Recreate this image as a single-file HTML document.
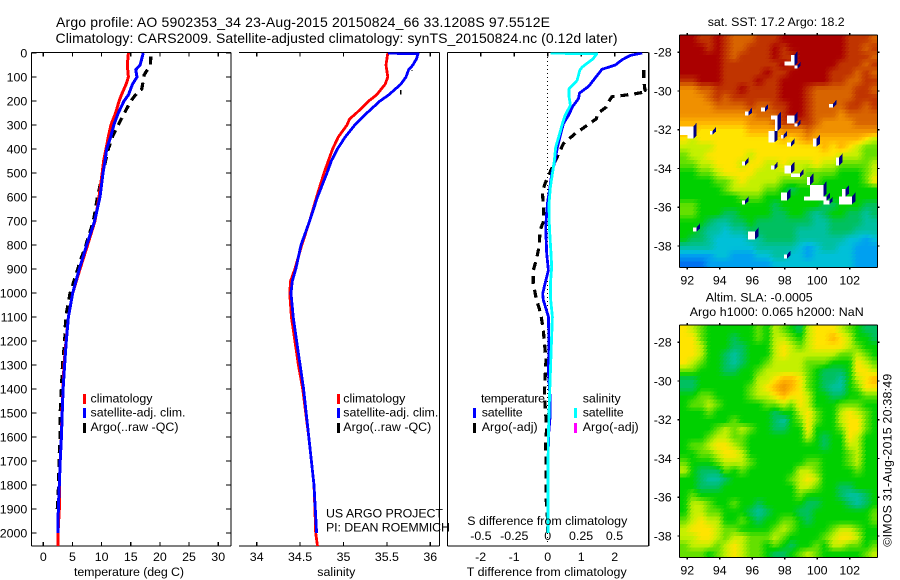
<!DOCTYPE html>
<html lang="en">
<head>
<meta charset="utf-8">
<title>Argo profile</title>
<style>
html,body{margin:0;padding:0;background:#fff;}
svg{display:block;}
text{font-family:"Liberation Sans",sans-serif;font-size:12.4px;fill:#000;}
.t14{font-size:14px;}
</style>
</head>
<body>
<svg id="chart" xmlns="http://www.w3.org/2000/svg" width="900" height="580" viewBox="0 0 900 580">
<rect x="0" y="0" width="900" height="580" fill="#fff"/>
<defs>
<clipPath id="clipT"><rect x="31.5" y="52.5" width="199.5" height="493.5"/></clipPath>
<clipPath id="clipS"><rect x="239" y="52.5" width="200.5" height="493.5"/></clipPath>
<clipPath id="clipD"><rect x="447.5" y="52.5" width="201" height="493.5"/></clipPath>
<clipPath id="clipM1"><rect x="679.5" y="35.5" width="198" height="232"/></clipPath>
<clipPath id="clipM2"><rect x="679.5" y="325.5" width="198" height="232"/></clipPath>
</defs>
<g id="mapSst" clip-path="url(#clipM1)"></g>
<g id="mapSla" clip-path="url(#clipM2)"></g>
<g id="axes"></g>
<g id="lines"></g>

<text class="t14" x="56" y="27" textLength="494">Argo profile: AO 5902353_34 23-Aug-2015 20150824_66 33.1208S 97.5512E</text>
<text class="t14" x="55.5" y="43" textLength="562">Climatology: CARS2009. Satellite-adjusted climatology: synTS_20150824.nc (0.12d later)</text>

<text x="74" y="576" textLength="110">temperature (deg C)</text>
<text x="317.3" y="576" textLength="38">salinity</text>
<text x="466.7" y="576" textLength="160">T difference from climatology</text>
<text x="467.3" y="525" textLength="160">S difference from climatology</text>

<rect x="83" y="394" width="3" height="10" fill="#f00"/>
<text x="90.5" y="402.7" textLength="62">climatology</text>
<rect x="83" y="408" width="3" height="10" fill="#00f"/>
<text x="90.5" y="416.7" textLength="95">satellite-adj. clim.</text>
<rect x="83" y="423" width="3" height="10" fill="#000"/>
<text x="90.5" y="431" textLength="88">Argo(..raw -QC)</text>

<rect x="337" y="394" width="3" height="10" fill="#f00"/>
<text x="343.3" y="402.7" textLength="62">climatology</text>
<rect x="337" y="408" width="3" height="10" fill="#00f"/>
<text x="343.3" y="416.7" textLength="95">satellite-adj. clim.</text>
<rect x="337" y="423" width="3" height="10" fill="#000"/>
<text x="343.3" y="431" textLength="88">Argo(..raw -QC)</text>

<text x="326" y="517.3" textLength="117">US ARGO PROJECT</text>
<text x="326" y="531.5" textLength="124">PI: DEAN ROEMMICH</text>

<text x="481" y="402.7" textLength="64">temperature</text>
<rect x="473" y="408" width="3" height="10" fill="#00f"/>
<text x="481.7" y="416.7" textLength="41">satellite</text>
<rect x="473" y="423" width="3" height="10" fill="#000"/>
<text x="481.7" y="431" textLength="56">Argo(-adj)</text>
<text x="582.7" y="402.7" textLength="38">salinity</text>
<rect x="574" y="408" width="3" height="10" fill="#0ff"/>
<text x="582.7" y="416.7" textLength="41">satellite</text>
<rect x="574" y="423" width="3" height="10" fill="#f0f"/>
<text x="582.7" y="431" textLength="56">Argo(-adj)</text>

<text x="707.7" y="26" textLength="137">sat. SST: 17.2 Argo: 18.2</text>
<text x="705.7" y="301.7" textLength="107">Altim. SLA: -0.0005</text>
<text x="689.7" y="316" textLength="174">Argo h1000: 0.065 h2000: NaN</text>
<text transform="translate(891.7,546.7) rotate(-90)" x="0" y="0" textLength="173">©IMOS 31-Aug-2015 20:38:49</text>
</svg>

<script>
// ---- temperature profile (depth in m, temperature in deg C)
const tClimDepth = [0,50,100,130,175,200,250,300,350,400,450,500,600,700,800,900,1000,1100,1200,1300,1400,1500,1600,1700,1800,1900,2000,2054];
const tClimValue = [14.6,14.4,14.6,14.2,13.4,13.0,12.4,11.6,11.15,10.75,10.35,10.1,9.55,8.87,7.6,6.3,5.04,4.3,3.9,3.55,3.38,3.2,3.1,2.9,2.75,2.75,2.52,2.52];
const tSatDepth = [0,50,70,100,130,175,200,250,300,350,400,450,500,600,700,800,900,1000,1100,1200,1300,1400,1500,1600,1700,1800,1900,2000];
const tSatValue = [17.15,16.6,15.85,16.07,15.3,14.6,13.84,12.87,12.1,11.56,10.87,10.58,10.24,9.73,8.8,7.44,6.18,5.04,4.3,3.95,3.65,3.4,3.25,3.1,2.9,2.75,2.58,2.52];
const tArgoDepth = [15,50,90,150,160,200,260,340,400,500,600,700,800,870,950,1000,1100,1200,1300,1400,1500,1600,1700,1800,1900];
const tArgoValue = [18.42,18.4,17.33,16.9,16.3,15,13.7,12,11.15,10.2,9.3,8.6,7.3,6.3,5.27,4.6,3.84,3.67,3.3,3.1,2.9,2.87,2.7,2.63,2.4];
// ---- salinity profile
const sClimDepth = [0,50,100,130,175,200,250,275,300,350,400,450,500,600,700,800,900,950,1000,1100,1200,1300,1400,1500,1600,1700,1800,1900,2000,2054];
const sClimValue = [35.51,35.49,35.51,35.48,35.38,35.29,35.15,35.07,35.04,34.94,34.875,34.825,34.775,34.69,34.61,34.52,34.44,34.39,34.38,34.40,34.44,34.48,34.53,34.565,34.6,34.63,34.66,34.67,34.68,34.70];
const sSatDepth = [1,3,25,50,70,100,130,175,200,250,300,350,400,450,500,600,700,800,900,950,1000,1100,1200,1300,1400,1500,1600,1700,1800,1900,2000];
const sSatValue = [35.51,35.86,35.84,35.80,35.75,35.72,35.66,35.52,35.42,35.27,35.13,35.02,34.93,34.86,34.81,34.70,34.61,34.51,34.45,34.41,34.395,34.42,34.46,34.5,34.54,34.57,34.6,34.63,34.66,34.675,34.69];
const sArgoDepth = [70,76,120,155,172];
const sArgoValue = [35.79,35.79,null,35.66,35.66];
// ---- differences from climatology
const dTSatDepth = [0,10,28,50,68,107,139,167,190,222,260,294,336,392,447,503,558,628,725,836,906,961,1003,1029,1071,1099,1210,1328,1430,1520,1600,2000];
const dTSatValue = [2.82,2.47,2.22,2.02,1.62,1.4,1.22,0.95,0.92,0.75,0.62,0.47,0.39,0.29,0.22,0.12,0.07,-0.01,-0.06,-0.03,0.02,-0.08,-0.15,-0.13,-0.04,0.02,0.04,0.02,0.07,0.07,0.02,0.01];
const dSSatDepth = [1,3,24,58,72,114,149,183,218,260,294,336,392,447,503,558,628,725,836,892,961,1017,1099,1210,1328,1446,1585,1724,1863,2000];
const dSSatValue = [0.02,0.3675,0.34,0.26,0.24,0.22,0.16,0.16,0.17,0.13,0.11,0.09,0.06,0.05,0.035,0.02,0.01,0.0125,0.025,0.03,0.02,0.02,0.035,0.0275,0.02,0.0125,0.005,0.0025,0.0025,0.0025];
const dTArgoDepth = [71,112,154,161,170,176,182,203,225,253,274,297,336,378,413,503,544,579,628,697,739,801,857,906,961,1010,1029,1085,1154,1279,1363,1418,1488,1557,1627,1682,1751,1821,1877,1932,2001];
const dTArgoValue = [2.87,2.87,2.9,2.97,2.6,2.3,1.92,1.82,1.75,1.49,1.45,1.22,0.82,0.47,0.35,0.05,-0.08,-0.16,-0.13,-0.11,-0.23,-0.25,-0.33,-0.43,-0.43,-0.36,-0.33,-0.21,-0.13,-0.05,-0.08,-0.10,-0.07,-0.03,-0.06,-0.05,-0.05,-0.05,-0.04,-0.01,-0.01];
// ---- tick labels
const depthTicks = [0,100,200,300,400,500,600,700,800,900,1000,1100,1200,1300,1400,1500,1600,1700,1800,1900,2000];
const tempTicks = [0,5,10,15,20,25,30];
const salTicks = ["34","34.5","35","35.5","36"];
const dTTicks = ["-2","-1","0","1","2"];
const dSTicks = ["-0.5","-0.25","0","0.25","0.5"];
const lonTicks = [92,94,96,98,100,102];
const latTicks = [-28,-30,-32,-34,-36,-38];
// ---- colour levels of the map shading
const levelColors = ["#aa0000","#c03400","#d86400","#f09000","#ffb400","#ffe400","#c4f000","#64e000","#00d000","#00c060","#00c0a0","#00c0d8","#00a0f0","#0070f0"];
// ---- SST map: colour level per cell, north to south, west to east
const sstRows = [
[0,0,1,1,0,1,2,2,2,1,1,1,0,0,0,0,0,0,0,0,1,1,1,2],
[0,0,0,1,0,1,2,2,1,1,1,0,1,0,0,0,0,0,0,0,1,1,2,1],
[0,0,0,0,0,1,2,1,1,1,1,0,1,1,0,0,0,0,0,0,1,1,1,2],
[0,0,0,0,0,1,1,1,1,1,1,1,0,1,0,0,0,0,0,1,1,1,2,1],
[0,0,0,0,0,1,1,1,1,1,0,1,1,0,0,0,0,0,1,1,1,2,1,2],
[1,1,0,0,0,1,1,1,1,0,1,1,0,0,0,0,0,0,1,1,2,2,1,1],
[3,3,2,2,1,1,1,0,1,1,1,1,0,0,0,1,2,2,2,2,2,1,1,2],
[3,3,3,2,1,2,1,1,1,1,1,1,0,0,0,1,2,2,2,2,2,1,1,1],
[3,3,3,3,2,2,2,2,1,2,2,1,1,0,0,1,2,2,2,2,1,1,2,1],
[3,3,3,3,3,3,3,3,3,2,2,2,1,0,0,1,2,2,2,3,2,2,2,2],
[4,4,4,4,4,4,4,4,3,3,3,2,1,1,1,1,2,3,3,3,3,2,2,2],
[4,4,5,5,5,5,5,5,4,4,4,4,3,3,3,2,3,3,3,3,3,3,3,3],
[5,6,5,5,5,5,5,5,5,5,5,5,4,5,4,3,4,4,4,4,4,4,5,6],
[6,6,6,6,5,5,5,5,5,5,5,5,5,5,5,5,5,4,5,4,5,6,7,7],
[7,6,6,5,5,5,5,5,6,5,5,5,5,5,5,5,5,5,5,6,6,6,7,7],
[7,7,6,6,5,5,5,6,5,5,6,6,5,6,6,6,5,6,6,7,7,7,7,6],
[8,8,7,7,6,5,5,5,5,6,6,6,6,6,6,7,7,7,7,8,8,8,7,6],
[8,8,8,8,7,7,6,5,6,6,6,6,7,7,7,7,7,8,8,8,8,8,7,5],
[8,8,8,8,8,7,6,6,6,6,7,7,8,9,8,8,8,8,8,8,8,8,8,8],
[8,8,8,8,8,8,8,7,7,7,8,8,8,8,8,8,8,8,8,8,8,8,8,8],
[7,7,8,8,8,8,8,8,8,8,8,9,8,8,8,8,8,9,9,8,8,8,9,9],
[7,7,8,8,8,9,9,8,8,8,8,9,9,8,8,9,10,9,8,8,9,9,10,9],
[8,8,8,9,10,10,9,9,8,9,9,9,9,9,9,9,10,10,9,9,9,9,10,10],
[8,8,9,10,10,11,10,10,9,9,9,9,9,9,10,10,10,10,9,9,9,10,10,10],
[8,9,9,10,11,11,11,11,10,10,9,9,9,9,10,10,10,10,10,10,11,11,12,11],
[10,10,10,10,11,11,11,11,11,10,10,10,10,10,11,12,11,10,10,11,11,12,12,12],
[12,12,12,12,11,11,12,12,12,11,11,10,10,11,11,12,11,11,11,11,11,12,12,12],
[13,13,13,12,12,12,12,12,12,12,12,11,11,11,11,11,11,11,11,11,11,12,12,12]
];
// ---- SLA map: colour level per cell
const slaRows = [
[5,6,7,8,8,8,8,8,8,7,8,6,7,8,9,6,5,5,5,6,7,8,9,9],
[5,5,7,8,8,8,9,8,8,7,8,6,6,7,8,6,5,5,4,5,6,8,8,9],
[5,5,6,8,8,8,9,9,8,8,8,6,5,6,7,6,5,5,5,5,6,7,8,8],
[5,5,6,8,8,9,10,9,8,8,8,6,5,6,6,6,6,6,6,7,7,6,7,8],
[5,6,7,8,8,9,10,9,8,8,7,6,6,6,6,7,7,7,8,8,8,5,6,7],
[7,7,8,8,8,9,9,8,8,7,6,6,6,6,6,7,8,9,9,9,8,5,5,6],
[9,9,8,8,8,8,8,8,8,6,6,5,4,4,5,7,8,9,9,10,8,6,5,4],
[9,9,8,8,8,8,8,8,7,6,5,4,3,4,5,7,8,9,10,10,8,7,5,5],
[8,8,7,7,8,8,8,8,7,6,6,5,4,5,5,6,8,8,9,9,8,8,7,7],
[8,7,7,6,7,8,8,8,8,8,7,7,6,7,5,6,8,8,8,7,7,7,8,8],
[8,8,8,7,8,8,8,8,8,8,8,9,8,8,6,5,7,8,8,6,5,6,7,8],
[8,8,8,8,8,8,7,8,8,8,8,9,10,8,7,5,7,8,8,6,5,5,7,8],
[8,8,8,8,7,6,7,6,7,8,8,9,9,8,8,5,8,8,8,7,5,5,7,8],
[8,8,8,7,6,6,7,7,8,8,8,8,8,8,8,6,8,9,8,8,5,6,8,8],
[8,7,7,6,5,5,6,7,8,8,8,8,8,8,8,8,8,9,8,8,6,6,8,8],
[8,8,7,7,6,5,5,6,8,8,8,8,8,8,8,8,8,8,8,8,7,6,8,8],
[7,8,8,8,7,6,6,6,7,8,8,8,8,8,8,7,7,8,8,8,7,6,8,8],
[6,8,9,9,9,7,8,7,8,8,8,8,8,8,6,6,7,8,8,8,8,7,8,8],
[8,8,9,10,10,9,8,8,8,8,8,8,8,7,6,5,6,8,8,8,8,8,8,8],
[8,8,9,9,9,8,8,8,8,8,8,8,8,8,6,6,7,8,8,9,9,8,8,8],
[8,7,8,8,8,8,8,8,8,8,8,8,8,8,7,8,8,8,8,9,10,10,9,8],
[8,6,6,7,8,8,7,8,8,9,8,8,8,8,8,9,9,8,8,8,9,10,9,8],
[8,6,6,7,7,8,8,8,9,10,9,8,8,8,9,9,8,8,8,8,8,8,8,7],
[7,6,5,6,6,8,8,7,8,9,8,8,7,7,8,9,8,8,8,8,8,8,8,7],
[6,5,5,5,6,7,7,8,8,8,8,7,6,7,8,8,8,8,7,6,6,7,8,8],
[6,6,5,5,6,7,6,6,7,7,7,6,7,8,8,8,8,7,6,5,5,6,8,8],
[7,6,6,6,7,6,5,6,7,7,8,7,8,9,8,8,7,8,6,6,7,7,8,7],
[7,7,7,8,7,6,5,6,7,7,8,9,9,8,7,6,7,8,8,8,8,8,7,6]
];
// ---- SST missing-data patches: lon west, lon east, lat north, lat south (deg S)
const sstGapLonW = [97.98,98.39,98.59,100.73,96.54,95.55,97.15,97.40,96.99,98.14,98.59,91.51,92,93.40,97.77,98.14,99.74,95.37,97.15,97.98,98.39,101.16,99.37,99.56,99.19,100.38,97.77,101.53,101.34,95.37,92.35,95.74,97.95];
const sstGapLonE = [98.59,98.59,98.78,100.97,96.78,95.78,97.56,97.56,97.36,98.59,98.78,92.37,92.37,93.56,97.93,98.39,99.97,95.55,97.36,98.39,98.94,101.34,99.56,100.38,100.58,100.75,98.14,101.75,102.14,95.55,92.57,96.17,98.14];
const sstGapLatN = [28.48,28.14,28.69,30.67,30.86,31.06,31.27,31.46,32.06,31.27,31.67,31.84,32.27,32.06,32.27,32.66,32.46,33.65,33.85,33.85,34.25,33.44,34.45,34.85,35.45,35.66,35.25,35.06,35.45,35.66,37.05,37.26,38.45];
const sstGapLatS = [28.69,28.48,28.84,30.86,31.06,31.27,31.46,32.06,32.66,31.67,31.84,32.27,32.46,32.25,32.46,32.87,32.87,33.85,34.06,34.25,34.45,33.85,34.85,35.45,35.66,35.85,35.66,35.45,35.85,35.85,37.26,37.66,38.65];

// ---- axis functions
const yDepth = d => 53 + d * 0.24;
const xTemp = v => 43.3 + v * 5.83;
const xSal = v => 256.7 + (v - 34) * 86.8;
const xDT = v => 547.7 + v * 33.5;
const xDS = v => 547.7 + v * 133.6;
const xLon = v => 687.3 + (v - 92) * 16.24;
const yLat1 = v => 52.3 + (-28 - v) * 19.37;
const yLat2 = v => 342.3 + (-28 - v) * 19.37;

const NS = "http://www.w3.org/2000/svg";
const axesG = document.getElementById("axes");
const linesG = document.getElementById("lines");

function mk(tag, parent, props) {
  const el = document.createElementNS(NS, tag);
  for (const k in props) el.setAttribute(k, props[k]);
  parent.appendChild(el);
  return el;
}
function axisLine(x1, y1, x2, y2, name) {
  const el = mk("line", axesG, {x1: x1, y1: y1, x2: x2, y2: y2, stroke: "#000", "stroke-width": 1.2, "shape-rendering": "crispEdges"});
  
  
}
function tickLabel(x, y, str, anchor, name) {
  const el = mk("text", axesG, {x: x, y: y, "text-anchor": anchor});
  el.textContent = str;
  
  
}

// panel frames
axisLine(31.5, 52.5, 231, 52.5, "temperature-top-axis");
axisLine(31.5, 546, 231, 546, "temperature-bottom-axis");
axisLine(31.5, 52.5, 31.5, 546, "depth-axis");
axisLine(231, 52.5, 231, 546, "temperature-right-axis");
axisLine(239, 52.5, 439.5, 52.5, "salinity-top-axis");
axisLine(239, 546, 439.5, 546, "salinity-bottom-axis");
axisLine(439.5, 52.5, 439.5, 546, "salinity-right-axis");
axisLine(447.5, 52.5, 648.7, 52.5, "difference-top-axis");
axisLine(447.5, 546, 648.7, 546, "difference-bottom-axis");
axisLine(447.5, 52.5, 447.5, 546, "difference-left-axis");
axisLine(648.7, 52.5, 648.7, 546, "difference-right-axis");

// depth ticks
depthTicks.forEach(d => {
  const y = yDepth(d);
  axisLine(31.5, y, 36.5, y, "depth-tick-left");
  axisLine(226, y, 231, y, "depth-tick-right");
  tickLabel(27.3, y + 4.4, String(d), "end", "depth-tick-label");
});
// temperature ticks
tempTicks.forEach(v => {
  const x = xTemp(v);
  axisLine(x, 52.5, x, 56.5, "temperature-tick-top");
  axisLine(x, 542, x, 546, "temperature-tick-bottom");
  tickLabel(x, 561, String(v), "middle", "temperature-tick-label");
});
// salinity ticks
salTicks.forEach(v => {
  const x = xSal(parseFloat(v));
  axisLine(x, 52.5, x, 56.5, "salinity-tick-top");
  axisLine(x, 542, x, 546, "salinity-tick-bottom");
  tickLabel(x, 561, v, "middle", "salinity-tick-label");
});
// T and S difference ticks
dTTicks.forEach(v => {
  const x = xDT(parseFloat(v));
  axisLine(x, 52.5, x, 56.5, "t-difference-tick-top");
  tickLabel(x, 561, v, "middle", "t-difference-tick-label");
});
dSTicks.forEach(v => {
  tickLabel(xDS(parseFloat(v)), 540, v, "middle", "s-difference-tick-label");
});
// zero reference line
const zeroLine = mk("line", axesG, {x1: xDT(0), y1: 53, x2: xDT(0), y2: 545, stroke: "#000", "stroke-width": 1, "stroke-dasharray": "1 3", "shape-rendering": "crispEdges"});



// profile lines; a null value breaks the line
function drawLine(depths, values, xf, color, width, dash, clip, name) {
  let segments = [[]];
  depths.forEach((d, i) => {
    if (values[i] === null) { segments.push([]); return; }
    segments[segments.length - 1].push(xf(values[i]).toFixed(1) + "," + yDepth(d).toFixed(1));
  });
  segments.forEach(seg => {
    const el = mk("polyline", linesG, {points: seg.join(" "), fill: "none", stroke: color, "stroke-width": width, "stroke-linejoin": "round", "clip-path": "url(#" + clip + ")", "shape-rendering": "crispEdges"});
    if (dash) el.setAttribute("stroke-dasharray", dash);
    
    
  });
}
drawLine(tArgoDepth, tArgoValue, xTemp, "#000", 3.2, "8 6", "clipT", "temperature-argo-line");
drawLine(tClimDepth, tClimValue, xTemp, "#f00", 3, "", "clipT", "temperature-climatology-line");
drawLine(tSatDepth, tSatValue, xTemp, "#00f", 3, "", "clipT", "temperature-satellite-line");
drawLine(sArgoDepth, sArgoValue, xSal, "#000", 1.2, "", "clipS", "salinity-argo-line");
drawLine(sClimDepth, sClimValue, xSal, "#f00", 2.8, "", "clipS", "salinity-climatology-line");
drawLine(sSatDepth, sSatValue, xSal, "#00f", 2.8, "", "clipS", "salinity-satellite-line");
drawLine(dTArgoDepth, dTArgoValue, xDT, "#000", 3.2, "8 6", "clipD", "t-difference-argo-line");
drawLine(dTSatDepth, dTSatValue, xDT, "#00f", 2.8, "", "clipD", "t-difference-satellite-line");
drawLine(dSSatDepth, dSSatValue, xDS, "#0ff", 2.8, "", "clipD", "s-difference-satellite-line");

// heatmaps: array cells are shaded smoothly with small slanted blocks
function hexToRgb(h) {
  return [parseInt(h.slice(1, 3), 16), parseInt(h.slice(3, 5), 16), parseInt(h.slice(5, 7), 16)];
}
function levelColor(v) {
  const i = Math.max(0, Math.min(levelColors.length - 2, Math.floor(v)));
  const f = Math.max(0, Math.min(1, v - i));
  const a = hexToRgb(levelColors[i]), b = hexToRgb(levelColors[i + 1]);
  return "rgb(" + a.map((n, k) => Math.round(n + (b[k] - n) * f)).join(",") + ")";
}
function sampleGrid(rows, fr, fc) {
  const nr = rows.length, nc = rows[0].length;
  const r = Math.max(0, Math.min(nr - 1, fr)), c = Math.max(0, Math.min(nc - 1, fc));
  const r0 = Math.floor(r), c0 = Math.floor(c);
  const r1 = Math.min(nr - 1, r0 + 1), c1 = Math.min(nc - 1, c0 + 1);
  const dr = r - r0, dc = c - c0;
  return rows[r0][c0] * (1 - dr) * (1 - dc) + rows[r0][c1] * (1 - dr) * dc + rows[r1][c0] * dr * (1 - dc) + rows[r1][c1] * dr * dc;
}
function drawMap(groupId, rows, left, top, width, height, name) {
  const g = document.getElementById(groupId);
  const nr = rows.length, nc = rows[0].length;
  const bw = 3.3, bh = 3.9, lean = 2.4;
  const ny = Math.ceil(height / bh), nx = Math.ceil(width / bw);
  for (let j = ny - 1; j >= 0; j--) {
    for (let i = -1; i <= nx; i++) {
      const x0 = left + i * bw, y0 = top + j * bh;
      const fc = (x0 + bw / 2 - left) / width * nc - 0.5;
      const fr = (y0 + bh / 2 - top) / height * nr - 0.5;
      const pts = (x0 + lean).toFixed(1) + "," + y0.toFixed(1) + " " + (x0 + bw + lean + 0.4).toFixed(1) + "," + y0.toFixed(1) + " " + (x0 + bw + 0.4).toFixed(1) + "," + (y0 + bh + 0.4).toFixed(1) + " " + x0.toFixed(1) + "," + (y0 + bh + 0.4).toFixed(1);
      const cell = mk("polygon", g, {points: pts, fill: levelColor(sampleGrid(rows, fr, fc)), "shape-rendering": "crispEdges"});
      
      
    }
  }
}
drawMap("mapSst", sstRows, 679.3, 35, 198, 232.5, "sst-cell");
drawMap("mapSla", slaRows, 679.3, 325, 198, 232.5, "sla-cell");

// SST missing-data patches
const sstGroup = document.getElementById("mapSst");
sstGapLonW.forEach((w, i) => {
  const x2 = xLon(sstGapLonE[i]);
  const y1 = yLat1(-sstGapLatN[i]), y2 = yLat1(-sstGapLatS[i]);
  const navy = mk("polygon", sstGroup, {points: x2 + "," + y2 + " " + (x2 + 3.3) + "," + (y2 - 3) + " " + (x2 + 3.3) + "," + (y1 - 4) + " " + x2 + "," + y1, fill: "#00007f", "shape-rendering": "crispEdges"});
  
  
});
sstGapLonW.forEach((w, i) => {
  const x1 = xLon(w), x2 = xLon(sstGapLonE[i]);
  const y1 = yLat1(-sstGapLatN[i]), y2 = yLat1(-sstGapLatS[i]);
  const patch = mk("rect", sstGroup, {x: x1, y: y1, width: x2 - x1, height: y2 - y1, fill: "#fff", "shape-rendering": "crispEdges"});
  
  
});

// map frames and ticks
function mapFrame(top, bottom, yf, labelBase, prefix) {
  axisLine(679.5, top, 877.5, top, prefix + "-top-axis");
  axisLine(679.5, bottom, 877.5, bottom, prefix + "-bottom-axis");
  axisLine(679.5, top, 679.5, bottom, prefix + "-left-axis");
  axisLine(877.5, top, 877.5, bottom, prefix + "-right-axis");
  lonTicks.forEach(v => {
    const x = xLon(v);
    axisLine(x, top - 2, x, top, prefix + "-lon-tick-top");
    axisLine(x, bottom, x, bottom + 2, prefix + "-lon-tick-bottom");
    tickLabel(x, labelBase, String(v), "middle", prefix + "-lon-tick-label");
  });
  latTicks.forEach(v => {
    const y = yf(v);
    axisLine(677.5, y, 679.5, y, prefix + "-lat-tick-left");
    axisLine(877.5, y, 879.5, y, prefix + "-lat-tick-right");
    tickLabel(671.7, y + 4.4, String(v), "end", prefix + "-lat-tick-label");
  });
}
mapFrame(35, 267.5, yLat1, 284.3, "sst-map");
mapFrame(325, 557.5, yLat2, 574.3, "sla-map");
</script>
</body>
</html>
